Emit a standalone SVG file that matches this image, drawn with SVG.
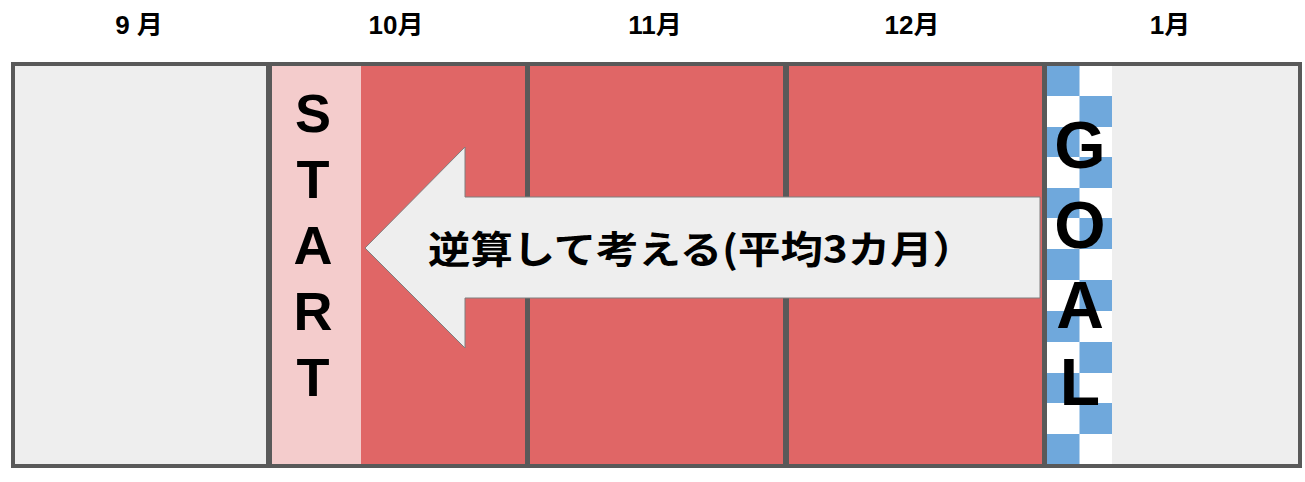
<svg xmlns="http://www.w3.org/2000/svg" width="1305" height="482" viewBox="0 0 1305 482">
<style>
.cell{stroke:#595959;stroke-width:4}
.month{font-family:"Liberation Sans","Noto Sans CJK JP",sans-serif;font-weight:bold;font-size:26px;fill:#000;text-anchor:middle}
.big{font-family:"Liberation Sans",Arial,sans-serif;font-weight:bold;fill:#000;text-anchor:middle}
.blue{fill:#6fa8dc}
</style>
<rect width="1305" height="482" fill="#ffffff"/>
<g id="labels">
<text class="month" x="139" y="34">9 月</text>
<text class="month" x="396" y="34">10月</text>
<text class="month" x="655" y="34">11月</text>
<text class="month" x="912" y="34">12月</text>
<text class="month" x="1170" y="34">1月</text>
</g>
<g id="sep">
<rect class="cell" x="13" y="64" width="255" height="402" fill="#eeeeee"/>
</g>
<g id="oct">
<rect class="cell" x="270" y="64" width="257" height="402" fill="#e06666"/>
<rect x="272" y="66" width="89" height="398" fill="#f4cccc"/>
<g class="big" font-size="54">
<text x="313" y="132">S</text>
<text x="313" y="198">T</text>
<text x="313" y="264">A</text>
<text x="313" y="330">R</text>
<text x="313" y="396">T</text>
</g>
</g>
<g id="nov">
<rect class="cell" x="528" y="64" width="257" height="402" fill="#e06666"/>
</g>
<g id="dec">
<rect class="cell" x="787" y="64" width="257" height="402" fill="#e06666"/>
</g>
<g id="jan">
<rect class="cell" x="1045" y="64" width="255" height="402" fill="#eeeeee"/>
<rect x="1047" y="66" width="65" height="398" fill="#ffffff"/>
<g class="blue">
<rect x="1047" y="66" width="32.5" height="30"/>
<rect x="1079.5" y="96" width="32.5" height="31"/>
<rect x="1047" y="127" width="32.5" height="30"/>
<rect x="1079.5" y="157" width="32.5" height="31"/>
<rect x="1047" y="188" width="32.5" height="30"/>
<rect x="1079.5" y="218" width="32.5" height="31"/>
<rect x="1047" y="249" width="32.5" height="31"/>
<rect x="1079.5" y="280" width="32.5" height="31"/>
<rect x="1047" y="311" width="32.5" height="31"/>
<rect x="1079.5" y="342" width="32.5" height="31"/>
<rect x="1047" y="373" width="32.5" height="30"/>
<rect x="1079.5" y="403" width="32.5" height="31"/>
<rect x="1047" y="434" width="32.5" height="30"/>
</g>
<g class="big" font-size="66">
<text x="1080" y="168">G</text>
<text x="1080" y="248">O</text>
<text x="1080" y="328">A</text>
<text x="1080" y="405">L</text>
</g>
</g>
<g id="connectors">
<path d="M365,248 L465,147 L465,197 L1040,197 L1040,298 L465,298 L465,348 Z" fill="#eeeeee" stroke="#7f7f7f" stroke-width="1"/>
<text x="428" y="263" font-family="'Noto Sans CJK JP',sans-serif" font-weight="bold" font-size="38" textLength="547" lengthAdjust="spacingAndGlyphs" fill="#000">逆算して考える(平均3カ月）</text>
</g>
</svg>
